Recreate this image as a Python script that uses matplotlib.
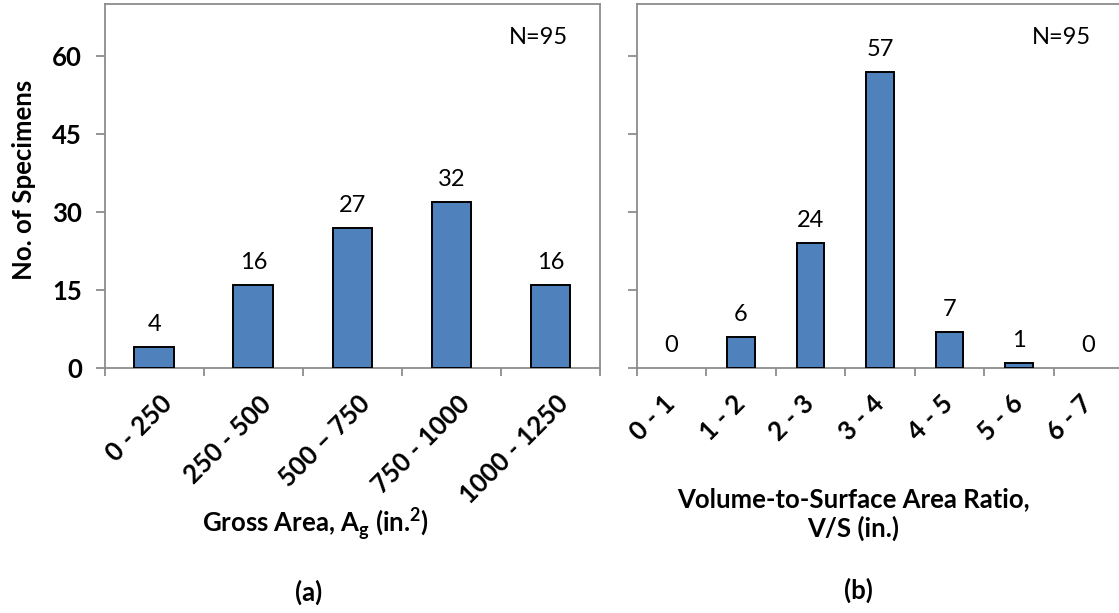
import matplotlib
matplotlib.use("Agg")
import matplotlib.pyplot as plt
import matplotlib.transforms as mtransforms
import numpy as np

# histogram counts for the two specimen properties
area_bins = ["0 - 250", "250 - 500", "500 \u2013 750", "750 - 1000", "1000 - 1250"]
area_counts = [4, 16, 27, 32, 16]

vs_bins = ["0 - 1", "1 - 2", "2 - 3", "3 - 4", "4 - 5", "5 - 6", "6 - 7"]
vs_counts = [0, 6, 24, 57, 7, 1, 0]

y_ticks = [0, 15, 30, 45, 60]
n_total = 95

plt.rcParams["font.family"] = ["Lato", "DejaVu Sans"]
plt.rcParams["mathtext.fontset"] = "custom"
plt.rcParams["mathtext.rm"] = "Lato"
plt.rcParams["mathtext.bf"] = "Lato:bold"

BAR = "#4f81bd"
AXIS = "#8c8c8c"
W, H = 1119, 613
FS_BOLD = 18.5
FS_REG = 17

fig = plt.figure(figsize=(W / 100, H / 100), dpi=100)


def px(x0, y0, x1, y1):
    # pixel box (top-left origin) -> figure fraction rect
    return [x0 / W, 1 - y1 / H, (x1 - x0) / W, (y1 - y0) / H]


ax1 = fig.add_axes(px(104.7, 4, 600, 368))
ax2 = fig.add_axes(px(636.7, 4, 1123.2, 368))


def draw(ax, bins, counts, show_ylabels, label_dx):
    x = np.arange(len(bins))
    edges = ["black" if c > 0 else "none" for c in counts]
    ax.bar(x, counts, width=0.4, color=BAR, edgecolor=edges, linewidth=1.4, zorder=3)
    for xi, c in zip(x, counts):
        ax.annotate(str(c), xy=(xi, c), xytext=(0, 11.5), textcoords="offset points",
                    ha="center", va="baseline", fontsize=FS_REG)
    ax.set_xlim(-0.5, len(bins) - 0.5)
    ax.set_ylim(0, 70)

    # boundary ticks between categories, labels at the centres
    ax.set_xticks(np.arange(len(bins) + 1) - 0.5)
    ax.set_xticklabels([])
    ax.set_xticks(x, minor=True)
    ax.set_xticklabels(bins, minor=True, rotation=45, ha="right", va="center",
                       rotation_mode="anchor", fontsize=FS_BOLD, fontweight="bold")
    ax.tick_params(axis="x", which="major", direction="out", length=5.5, width=1.3, color=AXIS)
    ax.tick_params(axis="x", which="minor", length=0, pad=23)
    offset = mtransforms.ScaledTranslation(label_dx / 100, 0, fig.dpi_scale_trans)
    for lbl in ax.get_xticklabels(minor=True):
        lbl.set_transform(lbl.get_transform() + offset)

    ax.set_yticks(y_ticks)
    ax.tick_params(axis="y", direction="out", length=6.5, width=1.3, color=AXIS, pad=10,
                   labelsize=FS_BOLD, labelleft=show_ylabels)
    for lbl in ax.get_yticklabels():
        lbl.set_fontweight("bold")
    for s in ax.spines.values():
        s.set_color(AXIS)
        s.set_linewidth(1.3)
    ax.text(1, 1, "N=%d" % n_total, transform=ax.transAxes + mtransforms.ScaledTranslation(
        -0.32, -0.33, fig.dpi_scale_trans), ha="right", va="center", fontsize=FS_REG)


draw(ax1, area_bins, area_counts, True, 14)
draw(ax2, vs_bins, vs_counts, False, 0)

fig.text(24 / W, 1 - 180 / H, "No. of Specimens", rotation=90, ha="center", va="center",
         fontsize=FS_BOLD, fontweight="bold")
fig.text(316 / W, 1 - 524 / H, r"Gross Area, A$_{\mathbf{g}}$ (in.$^{\mathbf{2}}$)",
         ha="center", va="center", fontsize=FS_BOLD, fontweight="bold")
fig.text(309 / W, 1 - 592 / H, "(a)", ha="center", va="center", fontsize=FS_BOLD, fontweight="bold")
fig.text(853 / W, 1 - 514 / H, "Volume-to-Surface Area Ratio,\nV/S (in.)",
         ha="center", va="center", fontsize=FS_BOLD, fontweight="bold", linespacing=1.2)
fig.text(858 / W, 1 - 590 / H, "(b)", ha="center", va="center", fontsize=FS_BOLD, fontweight="bold")

fig.savefig("out.png", dpi=100)
